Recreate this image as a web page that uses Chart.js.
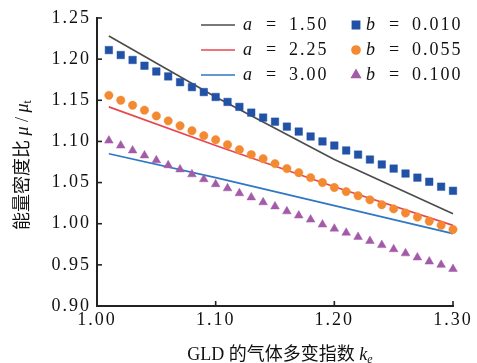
<!DOCTYPE html>
<html>
<head>
<meta charset="utf-8">
<script src="https://cdn.jsdelivr.net/npm/chart.js@4.4.0/dist/chart.umd.min.js"></script>
<style>
    html, body { margin: 0; padding: 0; background: #fff; }
</style>
</head>
<body>
<canvas id="chart" width="477" height="363"></canvas>
<script>
// GLD polytropic index k_e
const kValues = [1.01, 1.02, 1.03, 1.04, 1.05, 1.06, 1.07, 1.08, 1.09, 1.10,
                 1.11, 1.12, 1.13, 1.14, 1.15, 1.16, 1.17, 1.18, 1.19, 1.20,
                 1.21, 1.22, 1.23, 1.24, 1.25, 1.26, 1.27, 1.28, 1.29, 1.30]

// marker series (b)
const b010 = [1.211, 1.205, 1.199, 1.192, 1.185, 1.179, 1.172, 1.166, 1.160, 1.154,
              1.148, 1.142, 1.135, 1.129, 1.124, 1.118, 1.112, 1.106, 1.100, 1.095,
              1.089, 1.084, 1.078, 1.072, 1.067, 1.061, 1.056, 1.051, 1.045, 1.040]
const b055 = [1.156, 1.150, 1.144, 1.138, 1.131, 1.125, 1.119, 1.113, 1.107, 1.102,
              1.096, 1.090, 1.084, 1.079, 1.073, 1.067, 1.062, 1.056, 1.050, 1.044,
              1.039, 1.034, 1.029, 1.023, 1.018, 1.013, 1.008, 1.003, 0.998, 0.993]
const b100 = [1.101, 1.095, 1.089, 1.083, 1.077, 1.071, 1.066, 1.060, 1.054, 1.048,
              1.043, 1.037, 1.032, 1.026, 1.021, 1.015, 1.010, 1.005, 0.999, 0.994,
              0.989, 0.984, 0.979, 0.974, 0.969, 0.964, 0.959, 0.954, 0.950, 0.945]

// line series (a)
const lineK = [1.01, 1.10, 1.20, 1.30]
const a150 = [1.228, 1.154, 1.078, 1.012]
const a225 = [1.142, 1.095, 1.045, 0.998]
const a300 = [1.085, 1.056, 1.022, 0.988]

const xTicks = [1.00, 1.10, 1.20, 1.30]
const xTickLabels = ["1.00", "1.10", "1.20", "1.30"]
const yTicks = [0.90, 0.95, 1.00, 1.05, 1.10, 1.15, 1.20, 1.25]
const yTickLabels = ["0.90", "0.95", "1.00", "1.05", "1.10", "1.15", "1.20", "1.25"]

const SERIF = "'Liberation Serif', 'DejaVu Serif', serif"
const CJK = "'Liberation Serif', 'Noto Sans CJK SC', serif"
const AXIS = "#222222"

function pts(xs, ys) {
    return xs.map((x, i) => ({ x: x, y: ys[i] }))
}

function lineSet(label, sym, val, xs, ys, color) {
    return {
        label: label, sym: sym, val: val, kind: "line",
        data: pts(xs, ys), showLine: true, borderColor: color, borderWidth: 1.7,
        pointRadius: 0, fill: false, clip: false
    }
}

function markSet(label, sym, val, ys, color, style, radius) {
    return {
        label: label, sym: sym, val: val, kind: "mark",
        data: pts(kValues, ys), showLine: false, pointStyle: style, pointRadius: radius,
        backgroundColor: color, borderColor: color, pointBorderWidth: 0.5, clip: false
    }
}

const markSets = [
    markSet("b = 0.010", "b", "0.010", b010, "#2152a6", "rect", 5.3),
    markSet("b = 0.055", "b", "0.055", b055, "#f38a31", "circle", 4.2),
    markSet("b = 0.100", "b", "0.100", b100, "#a35ba9", "triangle", 5)
]
const lineSets = [
    lineSet("a = 1.50", "a", "1.50", lineK, a150, "#4d4d4d"),
    lineSet("a = 2.25", "a", "2.25", lineK, a225, "#e8474f"),
    lineSet("a = 3.00", "a", "3.00", lineK, a300, "#2f77c3")
]

// inward ticks, legend and axis titles
const decor = {
    id: "decor",
    beforeDraw(chart) {
        chart.ctx.letterSpacing = "2px"
    },
    afterDraw(chart) {
        const ctx = chart.ctx
        const xs = chart.scales.x, ys = chart.scales.y
        const area = chart.chartArea
        ctx.save()
        ctx.letterSpacing = "0px"
        ctx.strokeStyle = AXIS
        ctx.lineWidth = 1.6
        xTicks.forEach(v => {
            const px = xs.getPixelForValue(v)
            ctx.beginPath(); ctx.moveTo(px, area.bottom); ctx.lineTo(px, area.bottom - 5); ctx.stroke()
        })
        yTicks.forEach(v => {
            const py = ys.getPixelForValue(v)
            ctx.beginPath(); ctx.moveTo(area.left, py); ctx.lineTo(area.left + 5, py); ctx.stroke()
        })

        // legend: two columns, lines left, markers right
        const rows = [25, 50, 75]
        ctx.textBaseline = "middle"
        ctx.fillStyle = "#111"
        lineSets.forEach((ds, i) => {
            const y = rows[i]
            ctx.strokeStyle = ds.borderColor
            ctx.lineWidth = 1.7
            ctx.beginPath(); ctx.moveTo(201, y); ctx.lineTo(235, y); ctx.stroke()
            drawEntry(ctx, ds, 243, y)
        })
        markSets.forEach((ds, i) => {
            const y = rows[i]
            ctx.fillStyle = ds.backgroundColor
            ctx.strokeStyle = ds.borderColor
            Chart.helpers.drawPoint(ctx, { pointStyle: ds.pointStyle, radius: ds.pointRadius * 0.95, rotation: 0, borderWidth: 0.5 }, 356, y)
            ctx.fillStyle = "#111"
            drawEntry(ctx, ds, 366, y)
        })

        // x title
        ctx.fillStyle = "#111"
        ctx.textAlign = "left"
        ctx.textBaseline = "middle"
        const xParts = [
            { t: "GLD 的气体多变指数 ", f: "18px " + CJK },
            { t: "k", f: "italic 18px " + SERIF },
            { t: "e", f: "italic 12px " + SERIF, dy: 5 }
        ]
        drawParts(ctx, xParts, 280, 355)

        // y title, rotated
        ctx.save()
        ctx.translate(23, 165)
        ctx.rotate(-Math.PI / 2)
        const yParts = [
            { t: "能量密度比 ", f: "18px " + CJK },
            { t: "μ", f: "italic 18px " + SERIF },
            { t: " / ", f: "18px " + SERIF },
            { t: "μ", f: "italic 18px " + SERIF },
            { t: "t", f: "12px " + SERIF, dy: 5 }
        ]
        drawParts(ctx, yParts, 0, 0)
        ctx.restore()
        ctx.restore()
    }
}

function drawEntry(ctx, ds, x, y) {
    ctx.textAlign = "left"
    ctx.letterSpacing = "0px"
    ctx.font = "italic 18px " + SERIF
    ctx.fillText(ds.sym, x, y)
    ctx.font = "18px " + SERIF
    ctx.fillText("=", x + 23, y)
    ctx.letterSpacing = "2px"
    ctx.fillText(ds.val, x + 46, y)
    ctx.letterSpacing = "0px"
}

function drawParts(ctx, parts, cx, cy) {
    let total = 0
    parts.forEach(p => { ctx.font = p.f; p.w = ctx.measureText(p.t).width; total += p.w })
    let x = cx - total / 2
    parts.forEach(p => {
        ctx.font = p.f
        ctx.fillText(p.t, x, cy + (p.dy || 0))
        x += p.w
    })
}

new Chart(document.getElementById("chart").getContext("2d"), {
    type: "scatter",
    data: { datasets: markSets.concat(lineSets) },
    options: {
        responsive: false,
        devicePixelRatio: 1,
        animation: false,
        layout: { padding: { left: 0, right: 24, top: 18, bottom: 0 } },
        plugins: { legend: { display: false }, tooltip: { enabled: false } },
        scales: {
            x: {
                type: "linear", min: 1.0, max: 1.3,
                afterBuildTicks: s => { s.ticks = xTicks.map(v => ({ value: v })) },
                afterFit: s => { s.height = 57 },
                ticks: {
                    callback: (v, i) => xTickLabels[i], autoSkip: false, maxRotation: 0,
                    padding: 3, color: "#111", font: { family: SERIF, size: 18 }
                },
                grid: { drawOnChartArea: false, drawTicks: false },
                border: { display: true, color: AXIS, width: 2 }
            },
            y: {
                type: "linear", min: 0.90, max: 1.25,
                afterBuildTicks: s => { s.ticks = yTicks.map(v => ({ value: v })) },
                afterFit: s => { s.width = 97 },
                ticks: {
                    callback: (v, i) => yTickLabels[i], autoSkip: false,
                    padding: 6, color: "#111", font: { family: SERIF, size: 18 }
                },
                grid: { drawOnChartArea: false, drawTicks: false },
                border: { display: true, color: AXIS, width: 2 }
            }
        }
    },
    plugins: [decor]
})
</script>
</body>
</html>
